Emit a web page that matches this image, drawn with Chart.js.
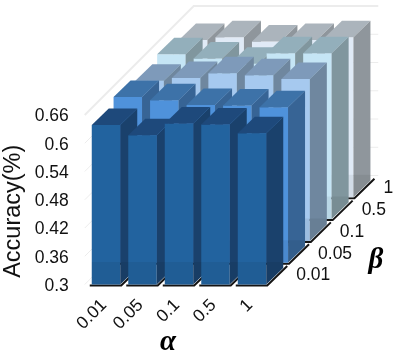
<!DOCTYPE html>
<html>
<head>
<meta charset="utf-8">
<style>
  html, body { margin: 0; padding: 0; background: #ffffff; }
  #caja { position: relative; width: 403px; height: 357px; }
</style>
<script src="https://cdn.jsdelivr.net/npm/chart.js@4"></script>
</head>
<body>
<div id="caja"><canvas id="grafico"></canvas></div>
<script>
const ALFAS = ["0.01", "0.05", "0.1", "0.5", "1"];
const BETAS = ["0.01", "0.05", "0.1", "0.5", "1"];

const ACC_B001 = [0.639, 0.617, 0.642, 0.640, 0.621];
const ACC_B005 = [0.652, 0.645, 0.635, 0.634, 0.630];
const ACC_B01 = [0.640, 0.646, 0.656, 0.652, 0.644];
const ACC_B05 = [0.650, 0.641, 0.630, 0.652, 0.652];
const ACC_B1 = [0.634, 0.640, 0.631, 0.634, 0.640];
const SERIES = [ACC_B001, ACC_B005, ACC_B01, ACC_B05, ACC_B1];

const COLOR_FRENTE = ["#22639f", "#4f92db", "#a6c9ef", "#c5e5f5", "#e0eaf6"];
const COLOR_TAPA = ["#1e497b", "#3d72a8", "#7e9aba", "#93afbb", "#abb4bc"];
const COLOR_LADO = ["#1a416c", "#376495", "#6f879f", "#80969e", "#8f969c"];

const PASO_FILA = 21.8;
const LADO_X = 17;
const LADO_Y = 16.5;
const AJUSTE_Y = 1.5;

function poligono(ctx, puntos, color) {
  ctx.fillStyle = color;
  ctx.beginPath();
  puntos.forEach(([x, y], i) => {
    if (i === 0) ctx.moveTo(x, y);
    else ctx.lineTo(x, y);
  });
  ctx.closePath();
  ctx.fill();
}

const pluginCajas = {
  id: "cajas3d",
  beforeDatasetsDraw(chart) {
    const { ctx, scales, chartArea } = chart;
    const fondo = PASO_FILA * BETAS.length;
    ctx.save();
    ctx.strokeStyle = "#ececec";
    scales.y.ticks.forEach((tick, i) => {
      const y = scales.y.getPixelForValue(tick.value) - AJUSTE_Y;
      ctx.lineWidth = i === scales.y.ticks.length - 1 ? 2 : 1;
      ctx.beginPath();
      ctx.moveTo(chartArea.left - 3, y);
      ctx.lineTo(chartArea.left - 3 + fondo, y - fondo);
      ctx.lineTo(chartArea.right + fondo - 1, y - fondo);
      ctx.stroke();
    });
    ctx.restore();
  },
  beforeDatasetDraw(chart, args) {
    const { ctx } = chart;
    const fila = args.index;
    const meta = chart.getDatasetMeta(fila);
    const dx = PASO_FILA * fila;

    ctx.save();
    meta.data.forEach((barra) => {
      const izq = barra.x - barra.width / 2 + dx;
      const der = izq + barra.width;
      const arriba = barra.y - dx - AJUSTE_Y;
      const base = barra.base - dx - AJUSTE_Y;

      // sombra de la base
      ctx.strokeStyle = "#141414";
      ctx.lineWidth = 2;
      ctx.beginPath();
      ctx.moveTo(izq - 2, base + 1);
      ctx.lineTo(der + 1, base + 1);
      ctx.lineTo(der + LADO_X + 4, base - LADO_Y - 2);
      ctx.stroke();

      poligono(ctx, [[izq, arriba], [der, arriba], [der, base], [izq, base]], COLOR_FRENTE[fila]);
      poligono(ctx, [[izq, arriba], [der, arriba], [der + LADO_X, arriba - LADO_Y], [izq + LADO_X, arriba - LADO_Y]], COLOR_TAPA[fila]);
      poligono(ctx, [[der, arriba], [der + LADO_X, arriba - LADO_Y], [der + LADO_X, base - LADO_Y], [der, base]], COLOR_LADO[fila]);

      // la base se ve a traves de la barra
      poligono(ctx, [[izq, base - LADO_Y - 6], [der + LADO_X, base - LADO_Y - 6], [der + LADO_X, base - LADO_Y], [der, base], [izq, base]], "rgba(0, 0, 0, 0.06)");
    });
    ctx.restore();
    return false;
  },
  afterDraw(chart) {
    const { ctx, scales } = chart;
    const ultima = chart.getDatasetMeta(0).data[ALFAS.length - 1];
    const x0 = ultima.x + ultima.width / 2 + 30;
    const y0 = ultima.base - AJUSTE_Y - 9;

    ctx.save();
    ctx.fillStyle = "#111111";
    ctx.textAlign = "left";
    ctx.textBaseline = "middle";
    ctx.font = "17.5px 'Liberation Sans'";
    BETAS.forEach((beta, i) => {
      ctx.fillText(beta, x0 + PASO_FILA * i, y0 - PASO_FILA * i);
    });

    ctx.textAlign = "center";
    ctx.fillStyle = "#000000";
    ctx.font = "italic bold 29px 'Liberation Serif'";
    ctx.fillText("α", 168, 343);
    ctx.fillText("β", 376, 261);

    ctx.translate(14, (scales.y.top + scales.y.bottom) / 2 + 10);
    ctx.rotate(-Math.PI / 2);
    ctx.font = "23.5px 'Liberation Sans'";
    ctx.fillStyle = "#111111";
    ctx.fillText("Accuracy(%)", 0, 0);
    ctx.restore();
  }
};

const conjuntos = SERIES.map((valores, fila) => ({
  label: "β = " + BETAS[fila],
  data: valores,
  backgroundColor: COLOR_FRENTE[fila],
  base: 0.3
}));

new Chart(document.getElementById("grafico"), {
  type: "bar",
  data: { labels: ALFAS, datasets: conjuntos },
  options: {
    responsive: true,
    maintainAspectRatio: false,
    animation: false,
    layout: { padding: { top: 116.5, right: 132.75, left: 0, bottom: 0 } },
    datasets: { bar: { grouped: false, categoryPercentage: 1, barPercentage: 0.78 } },
    plugins: { legend: { display: false }, tooltip: { enabled: false } },
    scales: {
      x: {
        afterFit(escala) { escala.height = 71; },
        grid: { display: false },
        border: { display: false },
        ticks: {
          color: "#111111",
          font: { size: 17.5, family: "'Liberation Sans'" },
          minRotation: 45,
          maxRotation: 45,
          labelOffset: -2,
          padding: 1
        }
      },
      y: {
        min: 0.3,
        max: 0.66,
        afterFit(escala) { escala.width = 87.75; },
        grid: { display: false },
        border: { display: false },
        ticks: {
          stepSize: 0.06,
          color: "#111111",
          padding: 11,
          font: { size: 17.5, family: "'Liberation Sans'" },
          callback(valor) { return String(Number(valor.toFixed(2))); }
        }
      }
    }
  },
  plugins: [pluginCajas]
});
</script>
</body>
</html>
